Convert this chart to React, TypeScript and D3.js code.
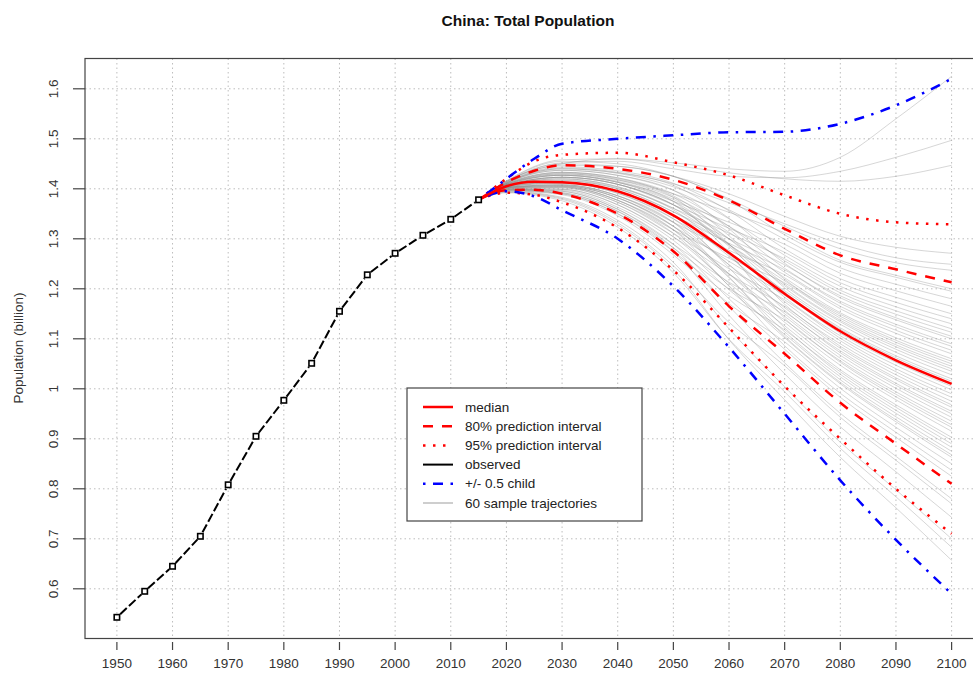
import React from "react";
import * as d3 from "d3";

// observed total population (billion), 5-year steps
const obsYears = [1950, 1955, 1960, 1965, 1970, 1975, 1980, 1985, 1990, 1995, 2000, 2005, 2010, 2015];
const observed = [0.543, 0.595, 0.645, 0.705, 0.808, 0.905, 0.977, 1.051, 1.155, 1.228, 1.271, 1.307, 1.339, 1.378];

// projections
const projYears = [2015, 2020, 2025, 2030, 2040, 2050, 2060, 2070, 2080, 2090, 2100];
const median = [1.378, 1.405, 1.414, 1.413, 1.395, 1.347, 1.272, 1.19, 1.115, 1.057, 1.01];
const upper80 = [1.378, 1.413, 1.436, 1.447, 1.44, 1.418, 1.377, 1.32, 1.267, 1.239, 1.213];
const lower80 = [1.378, 1.397, 1.398, 1.39, 1.35, 1.275, 1.165, 1.07, 0.972, 0.89, 0.81];
const upper95 = [1.378, 1.42, 1.455, 1.468, 1.472, 1.453, 1.427, 1.387, 1.35, 1.333, 1.329];
const lower95 = [1.378, 1.392, 1.388, 1.373, 1.322, 1.237, 1.122, 1.005, 0.9, 0.8, 0.71];
const plusHalfChild = [1.378, 1.42, 1.46, 1.49, 1.5, 1.507, 1.513, 1.514, 1.53, 1.567, 1.62];
const minusHalfChild = [1.378, 1.395, 1.385, 1.357, 1.3, 1.205, 1.083, 0.95, 0.817, 0.698, 0.59];

// 60 sample trajectories (start from the 2015 observation)
const trajYears = [2020, 2030, 2040, 2050, 2060, 2070, 2080, 2090, 2100];
const trajectories = [
  [1.41, 1.433, 1.422, 1.39, 1.353, 1.312, 1.257, 1.227, 1.2],
  [1.414, 1.45, 1.445, 1.425, 1.377, 1.308, 1.253, 1.223, 1.195],
  [1.411, 1.44, 1.431, 1.404, 1.358, 1.299, 1.242, 1.209, 1.18],
  [1.408, 1.427, 1.413, 1.375, 1.333, 1.289, 1.231, 1.196, 1.165],
  [1.412, 1.444, 1.436, 1.411, 1.356, 1.28, 1.22, 1.183, 1.15],
  [1.407, 1.423, 1.409, 1.368, 1.321, 1.273, 1.212, 1.173, 1.14],
  [1.411, 1.437, 1.427, 1.397, 1.34, 1.267, 1.205, 1.164, 1.13],
  [1.407, 1.42, 1.404, 1.361, 1.311, 1.26, 1.197, 1.156, 1.12],
  [1.409, 1.43, 1.418, 1.383, 1.325, 1.256, 1.192, 1.149, 1.113],
  [1.412, 1.442, 1.433, 1.407, 1.341, 1.251, 1.186, 1.142, 1.105],
  [1.406, 1.416, 1.4, 1.354, 1.3, 1.248, 1.182, 1.138, 1.1],
  [1.41, 1.433, 1.422, 1.39, 1.325, 1.241, 1.175, 1.129, 1.09],
  [1.405, 1.413, 1.395, 1.347, 1.291, 1.238, 1.171, 1.124, 1.085],
  [1.409, 1.428, 1.415, 1.379, 1.313, 1.233, 1.165, 1.117, 1.077],
  [1.403, 1.408, 1.386, 1.333, 1.277, 1.228, 1.16, 1.111, 1.07],
  [1.407, 1.423, 1.409, 1.368, 1.3, 1.222, 1.152, 1.102, 1.06],
  [1.411, 1.437, 1.427, 1.397, 1.32, 1.219, 1.149, 1.097, 1.055],
  [1.406, 1.416, 1.4, 1.354, 1.288, 1.216, 1.145, 1.093, 1.05],
  [1.402, 1.404, 1.377, 1.318, 1.261, 1.212, 1.141, 1.088, 1.045],
  [1.408, 1.427, 1.413, 1.375, 1.3, 1.209, 1.137, 1.084, 1.04],
  [1.407, 1.42, 1.404, 1.361, 1.289, 1.206, 1.134, 1.079, 1.035],
  [1.409, 1.432, 1.42, 1.386, 1.306, 1.202, 1.129, 1.073, 1.028],
  [1.404, 1.411, 1.391, 1.34, 1.27, 1.196, 1.122, 1.066, 1.02],
  [1.407, 1.423, 1.409, 1.368, 1.289, 1.193, 1.119, 1.062, 1.015],
  [1.403, 1.406, 1.382, 1.325, 1.255, 1.187, 1.111, 1.053, 1.005],
  [1.407, 1.423, 1.409, 1.368, 1.285, 1.183, 1.106, 1.047, 0.998],
  [1.401, 1.402, 1.373, 1.311, 1.24, 1.178, 1.101, 1.04, 0.99],
  [1.405, 1.413, 1.395, 1.347, 1.265, 1.174, 1.096, 1.034, 0.983],
  [1.409, 1.43, 1.418, 1.383, 1.289, 1.169, 1.09, 1.028, 0.975],
  [1.4, 1.399, 1.368, 1.304, 1.229, 1.165, 1.085, 1.022, 0.968],
  [1.403, 1.408, 1.386, 1.333, 1.248, 1.162, 1.081, 1.018, 0.963],
  [1.407, 1.418, 1.402, 1.358, 1.268, 1.157, 1.076, 1.011, 0.955],
  [1.399, 1.395, 1.359, 1.289, 1.213, 1.154, 1.072, 1.007, 0.95],
  [1.404, 1.411, 1.391, 1.34, 1.248, 1.15, 1.067, 1.001, 0.943],
  [1.402, 1.404, 1.377, 1.318, 1.23, 1.145, 1.061, 0.994, 0.935],
  [1.408, 1.427, 1.413, 1.375, 1.272, 1.141, 1.056, 0.989, 0.928],
  [1.398, 1.392, 1.355, 1.282, 1.2, 1.138, 1.053, 0.984, 0.923],
  [1.403, 1.406, 1.382, 1.325, 1.23, 1.133, 1.047, 0.978, 0.915],
  [1.4, 1.399, 1.368, 1.304, 1.211, 1.126, 1.038, 0.968, 0.903],
  [1.405, 1.413, 1.395, 1.347, 1.242, 1.122, 1.034, 0.963, 0.897],
  [1.397, 1.39, 1.35, 1.275, 1.186, 1.118, 1.029, 0.957, 0.89],
  [1.403, 1.406, 1.382, 1.325, 1.222, 1.114, 1.024, 0.951, 0.883],
  [1.399, 1.397, 1.363, 1.297, 1.198, 1.109, 1.018, 0.944, 0.875],
  [1.403, 1.408, 1.386, 1.333, 1.224, 1.105, 1.013, 0.938, 0.868],
  [1.401, 1.402, 1.373, 1.311, 1.206, 1.102, 1.01, 0.934, 0.863],
  [1.396, 1.388, 1.346, 1.268, 1.17, 1.094, 1.001, 0.923, 0.85],
  [1.402, 1.404, 1.377, 1.318, 1.205, 1.086, 0.991, 0.913, 0.837],
  [1.399, 1.395, 1.359, 1.289, 1.18, 1.079, 0.983, 0.903, 0.825],
  [1.398, 1.392, 1.355, 1.282, 1.165, 1.052, 0.951, 0.865, 0.78],
  [1.394, 1.381, 1.332, 1.246, 1.133, 1.046, 0.943, 0.857, 0.77],
  [1.397, 1.39, 1.35, 1.275, 1.147, 1.03, 0.924, 0.834, 0.743],
  [1.395, 1.383, 1.337, 1.253, 1.12, 1.004, 0.893, 0.798, 0.7],
  [1.392, 1.376, 1.323, 1.232, 1.099, 0.994, 0.881, 0.784, 0.683],
  [1.393, 1.379, 1.328, 1.239, 1.098, 0.978, 0.863, 0.762, 0.657],
  [1.415, 1.45, 1.46, 1.452, 1.44, 1.435, 1.463, 1.54, 1.625],
  [1.414, 1.452, 1.455, 1.44, 1.425, 1.422, 1.435, 1.463, 1.497],
  [1.416, 1.458, 1.46, 1.447, 1.432, 1.42, 1.415, 1.425, 1.447],
  [1.413, 1.447, 1.445, 1.425, 1.39, 1.345, 1.305, 1.283, 1.271],
  [1.412, 1.44, 1.432, 1.41, 1.372, 1.33, 1.29, 1.262, 1.249],
  [1.415, 1.455, 1.45, 1.425, 1.38, 1.325, 1.28, 1.252, 1.237],
];

const xTicks = [1950, 1960, 1970, 1980, 1990, 2000, 2010, 2020, 2030, 2040, 2050, 2060, 2070, 2080, 2090, 2100];
const yTicks = [0.6, 0.7, 0.8, 0.9, 1.0, 1.1, 1.2, 1.3, 1.4, 1.5, 1.6];

const legendLabels = [
  "median",
  "80% prediction interval",
  "95% prediction interval",
  "observed",
  "+/- 0.5 child",
  "60 sample trajectories",
];

const FONT = "'Liberation Sans', Arial, Helvetica, sans-serif";

export default function App() {
  const width = 973;
  const height = 678;
  const box = { left: 85, top: 58.5, right: 995, bottom: 638.5 };

  const x = d3.scaleLinear().domain([1944, 2106]).range([83.5, 985]);
  const y = d3.scaleLinear().domain([0.5, 1.66]).range([638.8, 58.8]);

  const line = d3
    .line<[number, number]>()
    .x((d) => x(d[0]))
    .y((d) => y(d[1]))
    .curve(d3.curveMonotoneX);

  const proj = (vals: number[]) => line(projYears.map((yr, i) => [yr, vals[i]]) as [number, number][]) || "";
  const traj = (vals: number[]) =>
    line(
      [[obsYears[obsYears.length - 1], observed[observed.length - 1]], ...trajYears.map((yr, i) => [yr, vals[i]])] as [
        number,
        number
      ][]
    ) || "";

  // observed segments with gaps around the points (type = "b")
  const gap = 4.5;
  const obsSegs = obsYears.slice(1).map((yr, i) => {
    const x0 = x(obsYears[i]);
    const y0 = y(observed[i]);
    const x1 = x(yr);
    const y1 = y(observed[i + 1]);
    const len = Math.hypot(x1 - x0, y1 - y0);
    const ux = (x1 - x0) / len;
    const uy = (y1 - y0) / len;
    return { x1: x0 + ux * gap, y1: y0 + uy * gap, x2: x1 - ux * gap, y2: y1 - uy * gap };
  });

  const red = "#ff0000";
  const blue = "#0000ff";

  const legendStyles = [
    { stroke: red, width: 2.5, dash: "none" },
    { stroke: red, width: 2.5, dash: "10 9" },
    { stroke: red, width: 2.5, dash: "2.5 7.5" },
    { stroke: "#000", width: 2, dash: "none" },
    { stroke: blue, width: 2.5, dash: "2.5 7.5 10 7.5" },
    { stroke: "#bebebe", width: 1.5, dash: "none" },
  ];
  const legend = { x: 407, y: 388, w: 235, h: 133 };

  return (
    <div style={{ position: "absolute", left: 0, top: 0 }}>
      <svg width={width} height={height} style={{ display: "block", background: "#fff" }}>
        <defs>
          <clipPath id="plotclip">
            <rect x={box.left} y={box.top} width={box.right - box.left} height={box.bottom - box.top} />
          </clipPath>
        </defs>

        <text
          x={528}
          y={26}
          textAnchor="middle"
          fontFamily={FONT}
          fontWeight="bold"
          fontSize={15.5}
          fill="#111"
        >
          China: Total Population
        </text>

        {/* grid */}
        <g stroke="#bdbdbd" strokeWidth={1} strokeDasharray="1.5 3" clipPath="url(#plotclip)">
          {xTicks.map((t) => (
            <line key={"gx" + t} x1={x(t)} x2={x(t)} y1={box.top} y2={box.bottom} />
          ))}
          {yTicks.map((t) => (
            <line key={"gy" + t} x1={box.left} x2={box.right} y1={y(t)} y2={y(t)} />
          ))}
        </g>

        <g clipPath="url(#plotclip)" fill="none">
          {/* sample trajectories */}
          <g stroke="#8c8c8c" strokeOpacity={0.36} strokeWidth={1}>
            {trajectories.map((t, i) => (
              <path key={"t" + i} d={traj(t)} />
            ))}
          </g>

          {/* prediction intervals */}
          <path d={proj(upper95)} stroke={red} strokeWidth={2.5} strokeDasharray="2.5 7.5" />
          <path d={proj(lower95)} stroke={red} strokeWidth={2.5} strokeDasharray="2.5 7.5" />
          <path d={proj(upper80)} stroke={red} strokeWidth={2.5} strokeDasharray="10 9" />
          <path d={proj(lower80)} stroke={red} strokeWidth={2.5} strokeDasharray="10 9" />
          <path d={proj(plusHalfChild)} stroke={blue} strokeWidth={2.5} strokeDasharray="2.5 7.5 10 7.5" />
          <path d={proj(minusHalfChild)} stroke={blue} strokeWidth={2.5} strokeDasharray="2.5 7.5 10 7.5" />
          <path d={proj(median)} stroke={red} strokeWidth={2.5} />

          {/* observed */}
          <g stroke="#000" strokeWidth={2} strokeDasharray="9 3">
            {obsSegs.map((s, i) => (
              <line key={"o" + i} {...s} />
            ))}
          </g>
          {obsYears.map((yr, i) => (
            <rect
              key={"m" + yr}
              x={x(yr) - 2.7}
              y={y(observed[i]) - 2.7}
              width={5.4}
              height={5.4}
              fill="#fff"
              stroke="#000"
              strokeWidth={1.6}
            />
          ))}
        </g>

        {/* box */}
        <rect
          x={box.left}
          y={box.top}
          width={box.right - box.left}
          height={box.bottom - box.top}
          fill="none"
          stroke="#444"
          strokeWidth={1.2}
        />

        {/* x axis */}
        <g stroke="#444" strokeWidth={1.2}>
          {xTicks.map((t) => (
            <line key={"xt" + t} x1={x(t)} x2={x(t)} y1={642} y2={650} />
          ))}
        </g>
        <g fontFamily={FONT} fontSize={13.5} fill="#333" textAnchor="middle">
          {xTicks.map((t) => (
            <text key={"xl" + t} x={x(t)} y={668}>
              {t}
            </text>
          ))}
        </g>

        {/* y axis */}
        <g stroke="#444" strokeWidth={1.2}>
          {yTicks.map((t) => (
            <line key={"yt" + t} x1={73} x2={box.left} y1={y(t)} y2={y(t)} />
          ))}
        </g>
        <g fontFamily={FONT} fontSize={13.5} fill="#333" textAnchor="middle">
          {yTicks.map((t) => (
            <text key={"yl" + t} x={58} y={y(t)} transform={`rotate(-90, 58, ${y(t)})`}>
              {String(+t.toFixed(1))}
            </text>
          ))}
        </g>
        <text
          x={23}
          y={348}
          transform="rotate(-90, 23, 348)"
          textAnchor="middle"
          fontFamily={FONT}
          fontSize={13.5}
          fill="#333"
        >
          Population (billion)
        </text>

        {/* legend */}
        <rect x={legend.x} y={legend.y} width={legend.w} height={legend.h} fill="#fff" stroke="#444" strokeWidth={1.2} />
        {legendLabels.map((lab, i) => {
          const cy = 407 + i * 19.2;
          const st = legendStyles[i];
          return (
            <g key={lab}>
              <line
                x1={423}
                x2={453}
                y1={cy}
                y2={cy}
                stroke={st.stroke}
                strokeWidth={st.width}
                strokeDasharray={st.dash}
              />
              <text x={465} y={cy + 4.5} fontFamily={FONT} fontSize={13.5} fill="#222">
                {lab}
              </text>
            </g>
          );
        })}
      </svg>
    </div>
  );
}
